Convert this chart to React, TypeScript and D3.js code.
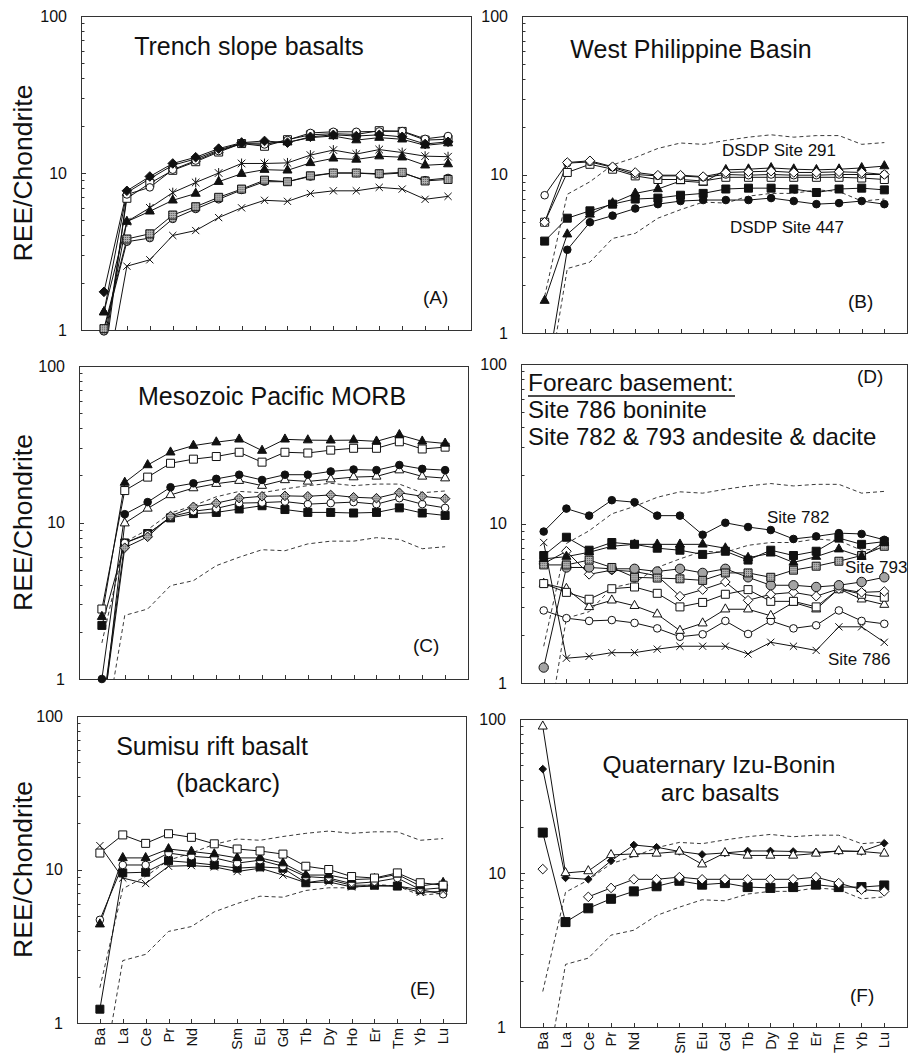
import React, { useRef, useEffect } from 'react';
import * as d3 from 'd3';

// x categories (blank slot between Nd and Sm)
const elements = ['Ba', 'La', 'Ce', 'Pr', 'Nd', '', 'Sm', 'Eu', 'Gd', 'Tb', 'Dy', 'Ho', 'Er', 'Tm', 'Yb', 'Lu'];
const yTickValues = [1, 10, 100];

// dashed envelope shown in B-F
const envUpper = [1.7, 7.5, 9.0, 11.5, 12.8, 14.6, 15.8, 15.5, 16.4, 17.2, 17.8, 17.2, 17.6, 17.6, 15.5, 15.9];
const envLower = [0.35, 2.55, 2.8, 3.95, 4.25, 5.3, 6.0, 6.7, 6.6, 7.3, 7.6, 7.6, 8.0, 7.8, 6.8, 7.0];

// (A) Trench slope basalts
const aDiamond = [1.75, 7.7, 9.5, 11.5, 12.6, 14.3, 15.6, 16.0, 15.6, 17.0, 17.5, 17.2, 17.5, 17.0, 15.3, 15.8];
const aCircleOpen = [0.6, 7.3, 8.1, 10.5, 12.0, 13.8, 15.4, 15.2, 16.2, 18.0, 18.3, 18.3, 18.4, 18.5, 16.5, 17.2];
const aSquareOpen = [0.7, 6.9, 8.6, 10.4, 11.8, 13.6, 15.4, 14.8, 16.3, 17.5, 17.8, 17.6, 18.6, 18.4, 16.2, 16.4];
const aTriTop = [1.3, 7.5, 9.2, 11.2, 12.3, 14.0, 15.5, 15.5, 15.7, 16.8, 17.2, 16.2, 16.8, 16.4, 15.0, 15.5];
const aStar = [0.85, 4.9, 6.0, 7.5, 8.7, 10.0, 11.5, 11.5, 11.6, 13.0, 14.0, 13.2, 14.1, 13.5, 12.8, 12.7];
const aTriMid = [1.3, 4.9, 5.7, 6.7, 7.4, 8.8, 9.9, 10.5, 10.4, 11.6, 12.4, 12.2, 12.8, 12.6, 11.2, 11.4];
const aHatchSquare = [1.02, 3.8, 4.1, 5.4, 6.1, 7.0, 7.9, 9.0, 8.8, 9.6, 10.0, 10.0, 9.9, 10.1, 8.9, 9.1];
const aHatchCircle = [0.98, 3.65, 3.85, 5.1, 5.9, 6.8, 7.8, 8.8, 8.8, 9.5, 10.0, 10.0, 9.8, 10.0, 9.0, 9.3];
const aCross = [0.4, 2.55, 2.8, 4.0, 4.3, 5.2, 6.0, 6.7, 6.6, 7.4, 7.7, 7.7, 8.1, 7.9, 6.8, 7.1];

// (B) West Philippine Basin
const bCircleOpen = [7.4, 11.8, 12.0, 11.1, 10.0, 9.8, 9.8, 9.6, 10.0, 9.9, 10.0, 9.9, 9.9, 10.0, 10.0, 10.0];
const bDiamondOpen = [5.0, 11.9, 12.2, 11.2, 10.3, 9.9, 9.9, 9.7, 10.3, 10.4, 10.5, 10.3, 10.3, 10.4, 10.3, 10.0];
const bSquareOpen = [5.0, 10.3, 11.6, 10.8, 9.8, 9.3, 9.3, 9.1, 9.6, 9.6, 9.6, 9.6, 9.6, 9.6, 9.5, 9.3];
const bTriangle = [1.6, 4.2, 5.6, 6.6, 7.6, 8.1, 9.1, 8.9, 10.7, 10.8, 11.0, 10.8, 10.7, 10.8, 11.0, 11.3];
const bSquare = [3.8, 5.3, 5.9, 6.5, 7.0, 7.1, 7.4, 7.6, 8.1, 8.2, 8.2, 8.1, 7.7, 8.1, 8.2, 8.0];
const bCircle = [0.45, 3.35, 5.0, 5.5, 6.1, 6.5, 6.8, 6.9, 6.9, 6.9, 7.1, 6.8, 6.5, 6.6, 6.8, 6.5];

// (C) Mesozoic Pacific MORB
const cTriangle = [2.5, 18.0, 23.3, 28.1, 31.0, 32.6, 34.0, 28.8, 34.0, 33.6, 33.5, 33.6, 33.0, 36.3, 33.0, 32.0];
const cSquareOpen = [2.8, 16.0, 19.5, 23.9, 25.4, 26.4, 28.1, 24.3, 28.1, 27.8, 29.0, 29.8, 29.8, 32.8, 29.5, 30.3];
const cCircle = [1.0, 11.3, 13.5, 16.8, 17.8, 19.0, 20.2, 18.7, 20.2, 20.2, 21.2, 21.8, 21.6, 23.3, 22.0, 21.6];
const cTriOpen = [0.5, 9.9, 12.3, 15.0, 16.6, 17.7, 18.5, 17.2, 18.7, 18.3, 18.9, 19.5, 19.7, 21.6, 19.7, 19.2];
const cHatchDiamond = [0.55, 6.9, 8.1, 11.0, 12.6, 13.3, 14.3, 14.7, 14.8, 14.7, 15.0, 14.5, 14.3, 15.5, 14.7, 14.2];
const cCircleOpen = [0.6, 7.4, 8.4, 10.9, 11.8, 12.3, 13.3, 13.4, 13.6, 13.1, 13.3, 13.5, 13.1, 14.3, 13.1, 12.4];
const cSquare = [2.2, 7.4, 8.5, 10.7, 11.4, 11.6, 12.2, 12.8, 12.1, 11.6, 11.6, 11.5, 11.6, 12.4, 11.5, 11.1];

// (D) Forearc basement
const dCircle = [8.9, 12.4, 11.2, 14.0, 13.6, 11.2, 11.2, 8.5, 10.1, 9.5, 9.1, 8.0, 8.3, 8.7, 8.6, 7.9];
const dSquare = [6.3, 8.2, 6.8, 7.6, 7.4, 7.0, 6.8, 6.4, 6.7, 5.9, 6.8, 6.3, 6.7, 8.1, 7.4, 7.7];
const dTriangle = [6.0, 6.2, 6.6, 7.2, 7.4, 7.4, 7.4, 7.4, 7.0, 6.1, 6.5, 5.7, 6.2, 6.9, 6.2, 7.6];
const dHatchSquare = [5.5, 5.5, 5.9, 5.3, 4.6, 4.55, 4.5, 4.4, 4.9, 4.9, 4.6, 5.1, 5.4, 5.8, 6.3, 7.2];
const dGrayCircle = [1.25, 5.3, 5.3, 5.2, 5.2, 5.0, 5.2, 4.9, 5.2, 4.6, 4.1, 4.1, 4.0, 4.1, 4.3, 4.6];
const dDiamondOpen = [5.6, 6.7, 4.8, 5.1, 5.0, 4.7, 3.5, 3.85, 4.3, 3.3, 3.6, 3.7, 3.5, 3.9, 3.7, 3.75];
const dSquareOpen = [4.2, 3.7, 3.35, 3.9, 4.0, 3.65, 3.0, 3.2, 3.6, 3.85, 3.25, 3.25, 3.0, 3.9, 3.6, 3.45];
const dTriOpen = [4.2, 3.9, 3.0, 3.3, 3.05, 2.7, 2.13, 2.37, 2.9, 2.9, 2.64, 3.2, 2.9, 3.9, 3.35, 3.1];
const dCircleOpen = [2.85, 2.55, 2.45, 2.48, 2.38, 2.2, 1.95, 2.02, 2.45, 2.03, 2.45, 2.2, 2.3, 2.85, 2.45, 2.35];
const dCross = [7.6, 1.43, 1.47, 1.55, 1.55, 1.63, 1.7, 1.7, 1.7, 1.52, 1.8, 1.7, 1.6, 2.25, 2.25, 1.8];

// (E) Sumisu rift basalt
const eSquareOpen = [12.8, 16.8, 14.8, 17.1, 16.2, 14.7, 13.6, 13.2, 12.6, 10.5, 10.0, 9.0, 8.8, 9.5, 8.2, 7.9];
const eCross = [14.3, 8.8, 8.1, 10.5, 10.6, 10.4, 9.7, 10.2, 9.2, 8.2, 8.3, 7.7, 7.8, 7.8, 7.1, 7.2];
const eTriangle = [4.4, 11.9, 11.9, 13.6, 13.1, 12.6, 11.9, 11.9, 11.0, 9.2, 9.2, 8.6, 8.7, 9.3, 7.8, 8.2];
const eCircleOpen = [4.7, 10.7, 10.7, 12.8, 12.2, 11.9, 11.0, 11.5, 10.5, 9.0, 8.8, 8.1, 8.3, 8.8, 7.4, 6.9];
const eSquare = [1.23, 9.5, 9.6, 11.4, 11.1, 10.7, 10.2, 10.4, 10.2, 8.2, 8.6, 7.9, 7.9, 7.8, 7.4, 7.6];

// (F) Quaternary Izu-Bonin arc basalts
const fTriOpen = [89.6, 10.0, 10.3, 13.1, 13.3, 13.4, 13.8, 11.4, 13.5, 13.0, 13.0, 13.0, 13.4, 13.9, 13.8, 13.4];
const fDiamond = [47.3, 9.3, 9.1, 12.0, 15.2, 14.7, 13.8, 13.2, 13.5, 13.9, 13.9, 13.8, 13.6, 13.9, 13.8, 15.6];
const fDiamondOpen = [10.6, null, 7.0, 8.0, 9.1, 9.1, 9.4, 9.1, 9.1, 9.1, 9.1, 9.1, 9.4, 8.6, 7.8, 7.6];
const fSquare = [18.3, 4.8, 5.9, 6.8, 7.6, 8.2, 8.9, 8.4, 8.6, 8.1, 8.0, 8.1, 8.4, 8.1, 8.1, 8.3];

const FONT = '"Liberation Sans", Arial, Helvetica, sans-serif';
const INK = '#111';

type Series = { values: (number | null)[]; shape: string; fill: string };
type Label = { text: string; x: number; y: number; size: number; anchor?: string };

const panels: {
  x0: number; x1: number; y0: number; y1: number;
  yTitle: boolean; xLabels: boolean; envelope: boolean;
  series: Series[]; labels: Label[]; underline?: number[];
}[] = [
  {
    x0: 81, x1: 471, y0: 16, y1: 330, yTitle: true, xLabels: false, envelope: false,
    series: [
      { values: aCross, shape: 'cross', fill: 'none' },
      { values: aHatchCircle, shape: 'circle', fill: 'hatch' },
      { values: aHatchSquare, shape: 'square', fill: 'hatch' },
      { values: aTriMid, shape: 'triangle', fill: 'black' },
      { values: aStar, shape: 'star', fill: 'none' },
      { values: aTriTop, shape: 'triangle', fill: 'black' },
      { values: aSquareOpen, shape: 'square', fill: 'white' },
      { values: aCircleOpen, shape: 'circle', fill: 'white' },
      { values: aDiamond, shape: 'diamond', fill: 'black' },
    ],
    labels: [
      { text: 'Trench slope basalts', x: 249, y: 55, size: 25, anchor: 'middle' },
      { text: '(A)', x: 423, y: 304, size: 19 },
    ],
  },
  {
    x0: 522, x1: 907, y0: 16, y1: 333, yTitle: false, xLabels: false, envelope: true,
    series: [
      { values: bCircle, shape: 'circle', fill: 'black' },
      { values: bSquare, shape: 'square', fill: 'black' },
      { values: bTriangle, shape: 'triangle', fill: 'black' },
      { values: bSquareOpen, shape: 'square', fill: 'white' },
      { values: bCircleOpen, shape: 'circle', fill: 'white' },
      { values: bDiamondOpen, shape: 'diamond', fill: 'white' },
    ],
    labels: [
      { text: 'West Philippine Basin', x: 691, y: 58, size: 25, anchor: 'middle' },
      { text: 'DSDP Site 291', x: 722, y: 156, size: 17 },
      { text: 'DSDP Site 447', x: 730, y: 233, size: 17 },
      { text: '(B)', x: 848, y: 308, size: 19 },
    ],
  },
  {
    x0: 79, x1: 468, y0: 366, y1: 679, yTitle: true, xLabels: false, envelope: true,
    series: [
      { values: cSquare, shape: 'square', fill: 'black' },
      { values: cCircleOpen, shape: 'circle', fill: 'white' },
      { values: cHatchDiamond, shape: 'diamond', fill: 'hatch' },
      { values: cTriOpen, shape: 'triangle', fill: 'white' },
      { values: cCircle, shape: 'circle', fill: 'black' },
      { values: cSquareOpen, shape: 'square', fill: 'white' },
      { values: cTriangle, shape: 'triangle', fill: 'black' },
    ],
    labels: [
      { text: 'Mesozoic Pacific MORB', x: 272, y: 405, size: 25, anchor: 'middle' },
      { text: '(C)', x: 413, y: 652, size: 19 },
    ],
  },
  {
    x0: 521, x1: 907, y0: 364, y1: 683, yTitle: false, xLabels: false, envelope: true,
    series: [
      { values: dCross, shape: 'cross', fill: 'none' },
      { values: dCircleOpen, shape: 'circle', fill: 'white' },
      { values: dTriOpen, shape: 'triangle', fill: 'white' },
      { values: dSquareOpen, shape: 'square', fill: 'white' },
      { values: dDiamondOpen, shape: 'diamond', fill: 'white' },
      { values: dGrayCircle, shape: 'bigcircle', fill: 'gray' },
      { values: dHatchSquare, shape: 'square', fill: 'hatch' },
      { values: dTriangle, shape: 'triangle', fill: 'black' },
      { values: dSquare, shape: 'square', fill: 'black' },
      { values: dCircle, shape: 'circle', fill: 'black' },
    ],
    labels: [
      { text: 'Forearc basement:', x: 528, y: 391, size: 24.5 },
      { text: 'Site 786 boninite', x: 528, y: 418, size: 24 },
      { text: 'Site 782 & 793 andesite & dacite', x: 528, y: 445, size: 24 },
      { text: '(D)', x: 857, y: 383, size: 19 },
      { text: 'Site 782', x: 767, y: 523, size: 17 },
      { text: 'Site 793', x: 845, y: 573, size: 17 },
      { text: 'Site 786', x: 828, y: 665, size: 17 },
    ],
    underline: [528, 735, 396],
  },
  {
    x0: 77, x1: 466, y0: 716, y1: 1023, yTitle: true, xLabels: true, envelope: true,
    series: [
      { values: eSquare, shape: 'square', fill: 'black' },
      { values: eCircleOpen, shape: 'circle', fill: 'white' },
      { values: eTriangle, shape: 'triangle', fill: 'black' },
      { values: eCross, shape: 'cross', fill: 'none' },
      { values: eSquareOpen, shape: 'square', fill: 'white' },
    ],
    labels: [
      { text: 'Sumisu rift basalt', x: 212, y: 755, size: 25, anchor: 'middle' },
      { text: '(backarc)', x: 228, y: 792, size: 25, anchor: 'middle' },
      { text: '(E)', x: 410, y: 995, size: 19 },
    ],
  },
  {
    x0: 520, x1: 907, y0: 719, y1: 1027, yTitle: false, xLabels: true, envelope: true,
    series: [
      { values: fSquare, shape: 'bigsquare', fill: 'black' },
      { values: fDiamondOpen, shape: 'diamond', fill: 'white' },
      { values: fDiamond, shape: 'smalldiamond', fill: 'black' },
      { values: fTriOpen, shape: 'triangle', fill: 'white' },
    ],
    labels: [
      { text: 'Quaternary Izu-Bonin', x: 719, y: 773, size: 24.5, anchor: 'middle' },
      { text: 'arc basalts', x: 720, y: 801, size: 24.5, anchor: 'middle' },
      { text: '(F)', x: 850, y: 1002, size: 19 },
    ],
  },
];

function shapePath(shape: string) {
  const circ = (r: number) => `M${r},0A${r},${r} 0 1,1 ${-r},0A${r},${r} 0 1,1 ${r},0Z`;
  const sq = (h: number) => `M${-h},${-h}H${h}V${h}H${-h}Z`;
  const dia = (r: number) => `M0,${-r}L${r},0L0,${r}L${-r},0Z`;
  switch (shape) {
    case 'circle': return circ(3.8);
    case 'bigcircle': return circ(4.7);
    case 'square': return sq(4);
    case 'bigsquare': return sq(4.5);
    case 'triangle': { const a = 9; return `M0,${-0.6 * a}L${a / 2},${0.3 * a}L${-a / 2},${0.3 * a}Z`; }
    case 'diamond': return dia(4.8);
    case 'smalldiamond': return dia(3.8);
    case 'cross': { const r = 3.6; return `M${-r},${-r}L${r},${r}M${-r},${r}L${r},${-r}`; }
    case 'star': { const r = 3.8; return `M${-r},${-r}L${r},${r}M${-r},${r}L${r},${-r}M0,${-r * 1.3}L0,${r * 1.3}`; }
    default: return circ(3.8);
  }
}

function fillOf(fill: string) {
  if (fill === 'black') return INK;
  if (fill === 'white') return '#fff';
  if (fill === 'gray') return '#a4a4a4';
  if (fill === 'hatch') return 'url(#hatch)';
  return 'none';
}

const RareEarthPanels = () => {
  const svgRef = useRef<SVGSVGElement>(null);

  useEffect(() => {
    const svg = d3.select(svgRef.current);
    svg.selectAll('*').remove();

    const defs = svg.append('defs');
    const pat = defs.append('pattern')
      .attr('id', 'hatch')
      .attr('width', 2).attr('height', 2)
      .attr('patternUnits', 'userSpaceOnUse');
    pat.append('rect').attr('width', 2).attr('height', 2).attr('fill', '#b4b4b4');
    pat.append('rect').attr('width', 1).attr('height', 1).attr('fill', '#555');

    panels.forEach((p, pi) => {
      const x = d3.scaleLinear().domain([-1, 16]).range([p.x0, p.x1]);
      const y = d3.scaleLog().domain([1, 100]).range([p.y1, p.y0]);
      const g = svg.append('g');

      defs.append('clipPath').attr('id', `clip${pi}`)
        .append('rect')
        .attr('x', p.x0).attr('y', p.y0)
        .attr('width', p.x1 - p.x0).attr('height', p.y1 - p.y0);

      // frame
      g.append('rect')
        .attr('x', p.x0 + 0.5).attr('y', p.y0 + 0.5)
        .attr('width', p.x1 - p.x0).attr('height', p.y1 - p.y0)
        .attr('fill', 'none').attr('stroke', '#333').attr('stroke-width', 1);

      // y ticks (inward), minor 2..9 per decade
      const minor: number[] = [];
      [1, 10].forEach(d => { for (let k = 1; k <= 9; k++) minor.push(d * k); });
      minor.push(100);
      g.selectAll('.ytick').data(minor).enter().append('line')
        .attr('x1', p.x0).attr('x2', d => p.x0 + (yTickValues.includes(d) ? 5 : 3.5))
        .attr('y1', d => Math.round(y(d)) + 0.5).attr('y2', d => Math.round(y(d)) + 0.5)
        .attr('stroke', '#333').attr('stroke-width', 1);

      g.selectAll('.ylab').data(yTickValues).enter().append('text')
        .attr('x', p.x0 - 14).attr('y', d => y(d)).attr('dy', '0.36em')
        .attr('text-anchor', 'end')
        .style('font-family', FONT).style('font-size', '16px').attr('fill', INK)
        .text(d => String(d));

      // x ticks (inward)
      g.selectAll('.xtick').data(elements).enter().append('line')
        .attr('x1', (d, i) => Math.round(x(i)) + 0.5).attr('x2', (d, i) => Math.round(x(i)) + 0.5)
        .attr('y1', p.y1).attr('y2', p.y1 - 4)
        .attr('stroke', '#333').attr('stroke-width', 1);

      if (p.xLabels) {
        g.selectAll('.xlab').data(elements).enter().append('text')
          .attr('transform', (d, i) => `translate(${x(i)},${p.y1 + 5}) rotate(-90)`)
          .attr('dy', '0.36em')
          .attr('text-anchor', 'end')
          .style('font-family', FONT).style('font-size', '14.5px').attr('fill', INK)
          .text(d => d);
      }

      if (p.yTitle) {
        g.append('text')
          .attr('transform', `translate(32,${(p.y0 + p.y1) / 2}) rotate(-90)`)
          .attr('text-anchor', 'middle')
          .style('font-family', FONT).style('font-size', '26.5px').attr('fill', INK)
          .text('REE/Chondrite');
      }

      const line = d3.line<number | null>()
        .defined(d => d != null)
        .x((d, i) => x(i))
        .y(d => y(d as number));

      const plot = g.append('g').attr('clip-path', `url(#clip${pi})`);
      if (p.envelope) {
        [envUpper, envLower].forEach(env => {
          plot.append('path').attr('d', line(env))
            .attr('fill', 'none').attr('stroke', '#222').attr('stroke-width', 0.9)
            .attr('stroke-dasharray', '4,3');
        });
      }
      p.series.forEach(s => {
        plot.append('path').attr('d', line(s.values))
          .attr('fill', 'none').attr('stroke', INK).attr('stroke-width', 1);
      });

      const marks = g.append('g');
      p.series.forEach(s => {
        const pts = s.values
          .map((v, i) => ({ v, i }))
          .filter(d => d.v != null && (d.v as number) >= 0.97);
        marks.selectAll(null).data(pts).enter().append('path')
          .attr('transform', d => `translate(${x(d.i)},${y(d.v as number)})`)
          .attr('d', shapePath(s.shape))
          .attr('fill', fillOf(s.fill))
          .attr('stroke', INK).attr('stroke-width', 1);
      });

      p.labels.forEach(l => {
        g.append('text')
          .attr('x', l.x).attr('y', l.y)
          .attr('text-anchor', l.anchor || 'start')
          .style('font-family', FONT).style('font-size', `${l.size}px`).attr('fill', INK)
          .text(l.text);
      });
      if (p.underline) {
        const [ux0, ux1, uy] = p.underline;
        g.append('line').attr('x1', ux0).attr('x2', ux1).attr('y1', uy).attr('y2', uy)
          .attr('stroke', INK).attr('stroke-width', 1.5);
      }
    });
  }, []);

  return (
    <svg ref={svgRef} width={908} height={1058}
      style={{ position: 'absolute', left: 0, top: 0, background: '#fff', display: 'block' }} />
  );
};

export default function App() {
  return <RareEarthPanels />;
}
